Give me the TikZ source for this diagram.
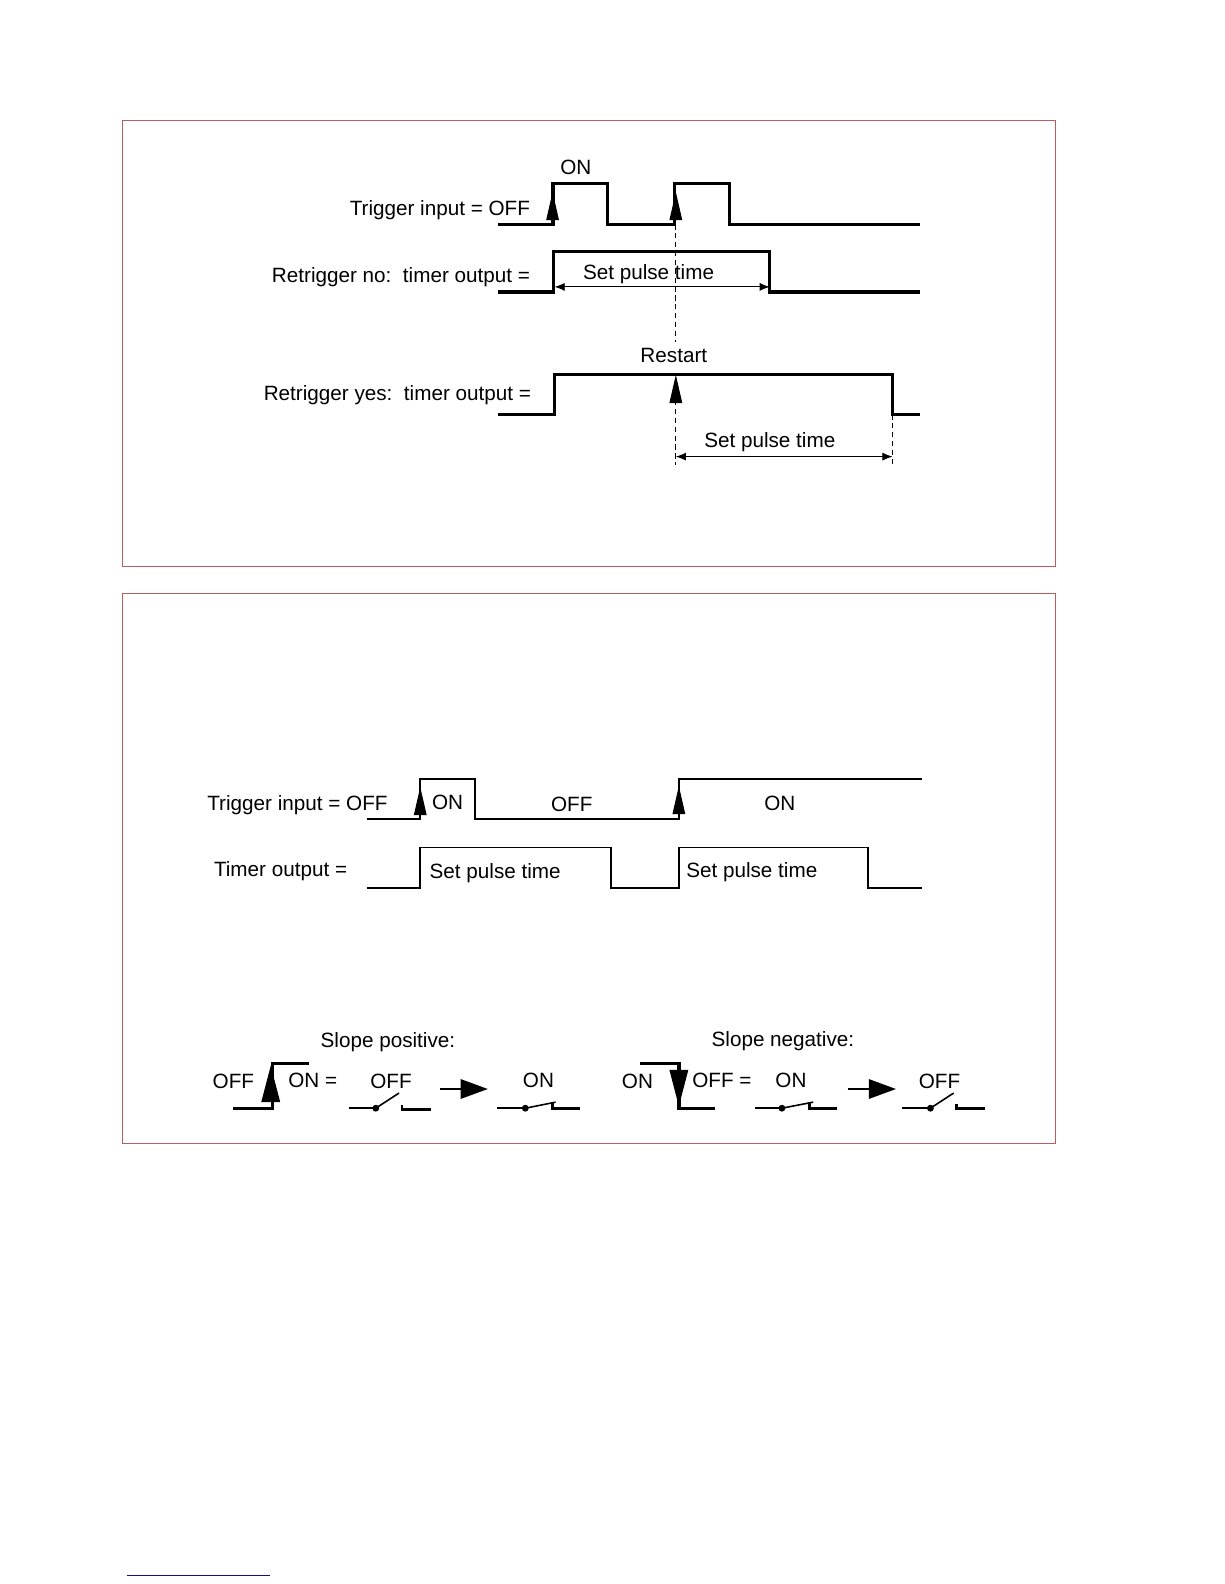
\documentclass[tikz,border=0pt]{standalone}
\usepackage{fontspec}
\setmainfont{Liberation Sans}
\usetikzlibrary{arrows.meta}
\definecolor{framered}{HTML}{B5605F}
\definecolor{notenavy}{HTML}{10108F}

\begin{document}
\begin{tikzpicture}[
    x=0.02cm, y=-0.02cm,
    every node/.style={font=\fontsize{11.65}{14}\selectfont, inner sep=0pt},
    panel/.style={draw=framered, line width=0.55pt},
    wave/.style={line width=1.85pt, miter limit=10},
    thinwave/.style={line width=0.95pt},
    edgetip/.style={-{Triangle[length=0.56cm, width=0.25cm]}, line width=0.6pt},
    bigtip/.style={-{Triangle[length=0.54cm, width=0.38cm]}, line width=1.5pt},
    slopetip/.style={-{Triangle[length=0.72cm, width=0.37cm]}, line width=0.6pt},
    dimline/.style={{Latex[length=0.2cm, width=0.16cm]}-{Latex[length=0.2cm, width=0.16cm]}, line width=0.5pt},
    guide/.style={dashed, dash pattern=on 3pt off 2pt, line width=0.5pt},
    wire/.style={line width=0.9pt},
    blade/.style={line width=0.9pt},
    pad/.style={line width=1.5pt}
]
\useasboundingbox (0,0) rectangle (1212,1568);

% ============ RETRIGGER PANEL (TOP) ============
\draw[panel] (121,119) rectangle (1045,561);

% Waveforms
\draw[wave] (493,222) -- (547.5,222) -- (547.5,182) -- (601.5,182) -- (601.5,222) -- (667.5,222) -- (667.5,182) -- (722,182) -- (722,222) -- (911,222);
\draw[wave] (493,289) -- (548,289) -- (548,249) -- (762,249) -- (762,289) -- (911,289);
\draw[wave] (493,410) -- (549,410) -- (549,371) -- (883.5,371) -- (883.5,410) -- (911,410);

% Anchor points
\coordinate (edgeA) at (547,222);
\coordinate (edgeAtop) at (547,190);
\coordinate (edgeB) at (669,222);
\coordinate (edgeBtop) at (669,190);
\coordinate (guideEnd) at (669,339);
\coordinate (restartBase) at (669,396);
\coordinate (restartTip) at (669,371);
\coordinate (guideLow) at (669,460);
\coordinate (fallEdge) at (883.5,410);
\coordinate (fallLow) at (883.5,460);
\coordinate (noLeft) at (549,284);
\coordinate (noRight) at (762,284);
\coordinate (yesLeft) at (669,452);
\coordinate (yesRight) at (883.5,452);

% Edge arrows
\draw[edgetip] (edgeA) -- (edgeAtop);
\draw[edgetip] (edgeB) -- (edgeBtop);
\draw[edgetip] (restartBase) -- (restartTip);

% Dashed guides
\draw[guide] (edgeB) -- (guideEnd);
\draw[guide] (restartBase) -- (guideLow);
\draw[guide] (fallEdge) -- (fallLow);

% Pulse length
\draw[dimline] (noLeft) -- (noRight);
\draw[dimline] (yesLeft) -- (yesRight);

% Labels
\node (onTop) at (570,166) {ON};
\node[anchor=east] (trigTop) at (525,208) {Trigger input = OFF};
\node[anchor=east] (noLabel) at (525,274) {Retrigger no:\ \ timer output =};
\node (noTime) at (642,271) {Set pulse time};
\node (restart) at (667,352) {Restart};
\node[anchor=east] (yesLabel) at (526,391) {Retrigger yes:\ \ timer output =};
\node (yesTime) at (762,438) {Set pulse time};

% ============ SLOPE PANEL (BOTTOM) ============
\draw[panel] (121,587) rectangle (1045,1132);

% Waveforms
\draw[thinwave] (363,811) -- (416,811) -- (416,771) -- (470,771) -- (470,811) -- (672,811) -- (672,771) -- (913,771);
\draw[thinwave] (363,879) -- (416,879) -- (416,839) -- (605,839) -- (605,879) -- (672,879) -- (672,839) -- (859,839) -- (859,879) -- (913,879);

% Edge arrows
\coordinate (riseA) at (416,808);
\coordinate (riseAtop) at (416,779);
\coordinate (riseB) at (672,805);
\coordinate (riseBtop) at (672,778);
\draw[edgetip] (riseA) -- (riseAtop);
\draw[edgetip] (riseB) -- (riseBtop);

% Labels
\node[anchor=east] (trigLow) at (384,797) {Trigger input = OFF};
\node (onA) at (443,794) {ON};
\node (offA) at (566,796) {OFF};
\node (onB) at (772,795) {ON};
\node[anchor=east] (timerLabel) at (344,862.5) {Timer output =};
\node[anchor=west] (timeA) at (425,864) {Set pulse time};
\node[anchor=west] (timeB) at (679,863) {Set pulse time};

% Slope positive
\node (posTitle) at (384,1032) {Slope positive:};
\draw[wave] (231,1097) -- (270,1097) -- (270,1053) -- (306,1053);
\coordinate (posBase) at (268,1090);
\coordinate (posTip) at (268,1055);
\draw[slopetip] (posBase) -- (posTip);
\node (posOff) at (231,1070) {OFF};
\node[anchor=west] (posOn) at (285,1069) {ON =};

\node (swOffA) at (387,1070) {OFF};
\draw[wire] (345,1097) -- (372,1097);
\fill (372,1097) circle (3.4);
\draw[blade] (372,1097) -- (395,1082);
\draw[pad] (398,1094) -- (398,1098) -- (427,1098);

\coordinate (posFrom) at (436,1078);
\coordinate (posTo) at (483,1078);
\draw[bigtip] (posFrom) -- (posTo);

\node (swOnA) at (533,1069) {ON};
\draw[wire] (492,1097) -- (520,1097);
\fill (520,1097) circle (3.4);
\draw[blade] (520,1097) -- (550,1091);
\draw[pad] (547,1092) -- (547,1097) -- (574,1097);

% Slope negative
\node (negTitle) at (775,1031) {Slope negative:};
\draw[wave] (634,1053) -- (672,1053) -- (672,1097) -- (708,1097);
\coordinate (negBase) at (672,1058);
\coordinate (negTip) at (672,1095);
\draw[slopetip] (negBase) -- (negTip);
\node (negOn) at (631,1070) {ON};
\node[anchor=west] (negOff) at (685,1069) {OFF =};

\node (swOnB) at (783,1069) {ON};
\draw[wire] (747,1097) -- (774,1097);
\fill (774,1097) circle (3.4);
\draw[blade] (774,1097) -- (805,1091);
\draw[pad] (801,1092) -- (801,1097) -- (829,1097);

\coordinate (negFrom) at (839,1078);
\coordinate (negTo) at (887,1078);
\draw[bigtip] (negFrom) -- (negTo);

\node (swOffB) at (930,1070) {OFF};
\draw[wire] (893,1097) -- (921,1097);
\fill (921,1097) circle (3.4);
\draw[blade] (921,1097) -- (944,1082);
\draw[pad] (947,1093) -- (947,1097) -- (975,1097);

% Footnote rule
\draw[notenavy, line width=0.75pt] (126,1559.5) -- (267,1559.5);

\end{tikzpicture}
\end{document}
